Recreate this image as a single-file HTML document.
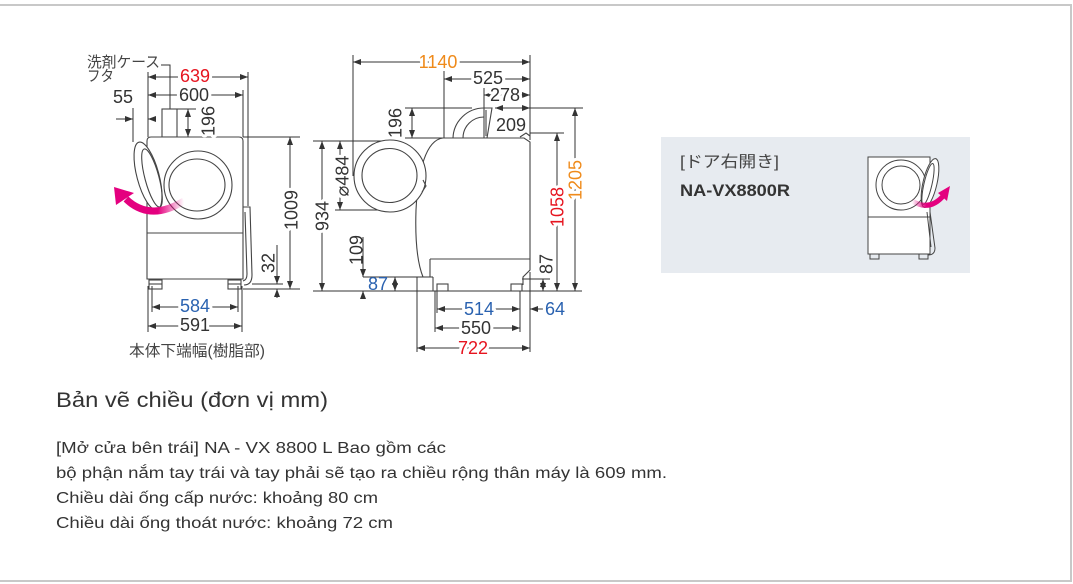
<!DOCTYPE html>
<html><head><meta charset="utf-8">
<style>
html,body{margin:0;padding:0;background:#fff;width:1073px;height:584px;overflow:hidden}
svg{display:block}
.n{font-family:"Liberation Sans",sans-serif;font-size:18px;text-anchor:middle;fill:#333;stroke:#fff;stroke-width:6px;paint-order:stroke;stroke-linejoin:round}
.r{fill:#e6141f}.o{fill:#ef8a1a}.b{fill:#2a62b0}
.jp{font-family:"Liberation Sans","Noto Sans CJK JP",sans-serif;fill:#444}
.vi{font-family:"Liberation Sans",sans-serif;fill:#333}
</style></head>
<body>
<svg width="1073" height="584" viewBox="0 0 1073 584" xmlns="http://www.w3.org/2000/svg">
<defs>
<marker id="a" viewBox="0 0 8 6" refX="8" refY="3" markerWidth="8" markerHeight="6" markerUnits="userSpaceOnUse" orient="auto-start-reverse"><path d="M0,0 L8,3 L0,6 z" fill="#333"/></marker>
<linearGradient id="pg" x1="0" x2="1" y1="0" y2="0"><stop offset="0" stop-color="#e4007f"/><stop offset="0.55" stop-color="#e4007f"/><stop offset="1" stop-color="#e4007f" stop-opacity="0"/></linearGradient>
<linearGradient id="pg2" x1="0" x2="1" y1="0" y2="0"><stop offset="0" stop-color="#e4007f" stop-opacity="0"/><stop offset="0.45" stop-color="#e4007f"/><stop offset="1" stop-color="#e4007f"/></linearGradient>
</defs>

<!-- frame -->
<rect x="-5" y="5" width="1076" height="576" fill="none" stroke="#c8c8c8" stroke-width="2"/>

<!-- ============ LEFT DRAWING ============ -->
<g stroke="#333" stroke-width="1" fill="none">
  <line x1="148" y1="72" x2="148" y2="137"/>
  <line x1="243" y1="90" x2="243" y2="137"/>
  <line x1="248" y1="72" x2="248" y2="206"/>
  <line x1="133" y1="108" x2="133" y2="142"/>
  <polyline points="161,65 170,65 170,109"/>
  <line x1="177" y1="109" x2="196" y2="109"/>
  <line x1="243" y1="137" x2="300" y2="137"/>
  <line x1="252" y1="284" x2="283" y2="284"/>
  <line x1="243" y1="289" x2="300" y2="289"/>
  <line x1="148" y1="286" x2="148" y2="332"/>
  <line x1="152" y1="286" x2="152" y2="312"/>
  <line x1="238" y1="286" x2="238" y2="312"/>
  <line x1="242" y1="286" x2="242" y2="332"/>
  <line x1="148" y1="77" x2="248" y2="77" marker-start="url(#a)" marker-end="url(#a)"/>
  <line x1="148" y1="95" x2="243" y2="95" marker-start="url(#a)" marker-end="url(#a)"/>
  <line x1="116" y1="119" x2="133" y2="119" marker-end="url(#a)"/>
  <line x1="156" y1="119" x2="148" y2="119" marker-end="url(#a)"/>
  <line x1="188" y1="109" x2="188" y2="137" marker-start="url(#a)" marker-end="url(#a)"/>
  <line x1="290" y1="137" x2="290" y2="289" marker-start="url(#a)" marker-end="url(#a)"/>
  <line x1="277" y1="245" x2="277" y2="284" marker-end="url(#a)"/>
  <line x1="277" y1="298" x2="277" y2="289" marker-end="url(#a)"/>
  <line x1="152" y1="307" x2="238" y2="307" marker-start="url(#a)" marker-end="url(#a)"/>
  <line x1="148" y1="326" x2="242" y2="326" marker-start="url(#a)" marker-end="url(#a)"/>
</g>
<g stroke="#444" stroke-width="1.1" fill="none">
  <rect x="162" y="109" width="15" height="28" fill="#fff"/>
  <path d="M147 141 Q147 137 151 137 L239 137 Q243 137 243 141 L243 279 L147 279 Z" fill="#fff"/>
  <line x1="147" y1="233" x2="243" y2="233"/>
  <rect x="149" y="280" width="13" height="9"/>
  <line x1="149" y1="284" x2="162" y2="284"/>
  <rect x="228" y="280" width="13" height="9"/>
  <line x1="228" y1="284" x2="241" y2="284"/>
  <circle cx="198" cy="185" r="34"/>
  <ellipse cx="197" cy="185" rx="28" ry="26"/>
  <path d="M243 207 L250 207 L252 275 Q252 285 244 285" />
  <path d="M245 212 L247 274 Q247 280 243 281" />
  <ellipse cx="148" cy="176" rx="11" ry="35" transform="rotate(-15 148 176)" fill="#fff"/>
  <ellipse cx="152" cy="178" rx="7" ry="30" transform="rotate(-15 152 178)"/>
</g>
<path d="M126 199 Q150 222 184 201" stroke="url(#pg)" stroke-width="7" fill="none"/>
<polygon points="114,187 116,205 134,193" fill="#e4007f"/>

<text class="jp" x="87" y="67" font-size="15" textLength="73" lengthAdjust="spacingAndGlyphs">洗剤ケース</text>
<text class="jp" x="87" y="81" font-size="15" textLength="27" lengthAdjust="spacingAndGlyphs">フタ</text>
<text class="n r" x="195" y="82">639</text>
<text class="n" x="194" y="101">600</text>
<text class="n" x="123" y="103">55</text>
<text class="n" transform="translate(208,121) rotate(-90)" y="6.5">196</text>
<text class="n" transform="translate(291,210) rotate(-90)" y="6.5">1009</text>
<text class="n" transform="translate(268,263) rotate(-90)" y="6.5" style="stroke-width:0">32</text>
<text class="n b" x="195" y="312">584</text>
<text class="n" x="195" y="331">591</text>
<text class="jp" x="197" y="356" font-size="15.5" text-anchor="middle" textLength="136" lengthAdjust="spacingAndGlyphs">本体下端幅(樹脂部)</text>

<!-- ============ MIDDLE DRAWING ============ -->
<g stroke="#333" stroke-width="1" fill="none">
  <line x1="353" y1="55" x2="353" y2="176"/>
  <line x1="444" y1="71" x2="444" y2="138"/>
  <line x1="484" y1="88" x2="484" y2="112"/>
  <line x1="530" y1="55" x2="530" y2="140"/>
  <line x1="405" y1="108" x2="472" y2="108"/>
  <line x1="530" y1="108" x2="583" y2="108"/>
  <line x1="530" y1="133" x2="564" y2="133"/>
  <line x1="405" y1="138" x2="445" y2="138"/>
  <line x1="313" y1="141" x2="390" y2="141"/>
  <line x1="335" y1="210" x2="390" y2="210"/>
  <line x1="313" y1="291" x2="582" y2="291"/>
  <line x1="363" y1="277" x2="433" y2="277"/>
  <line x1="522" y1="279" x2="550" y2="279"/>
  <line x1="417" y1="277" x2="417" y2="352"/>
  <line x1="435" y1="291" x2="435" y2="332"/>
  <line x1="437" y1="291" x2="437" y2="313"/>
  <line x1="520" y1="291" x2="520" y2="332"/>
  <line x1="530" y1="272" x2="530" y2="352"/>
  <line x1="353" y1="62" x2="530" y2="62" marker-start="url(#a)" marker-end="url(#a)"/>
  <line x1="444" y1="79" x2="530" y2="79" marker-start="url(#a)" marker-end="url(#a)"/>
  <line x1="484" y1="95" x2="530" y2="95" marker-start="url(#a)" marker-end="url(#a)"/>
  <line x1="495" y1="108" x2="530" y2="108" marker-start="url(#a)" marker-end="url(#a)"/>
  <line x1="412" y1="108" x2="412" y2="138" marker-start="url(#a)" marker-end="url(#a)"/>
  <line x1="575" y1="108" x2="575" y2="291" marker-start="url(#a)" marker-end="url(#a)"/>
  <line x1="557" y1="133" x2="557" y2="291" marker-start="url(#a)" marker-end="url(#a)"/>
  <line x1="543" y1="279" x2="543" y2="291" marker-start="url(#a)" marker-end="url(#a)"/>
  <line x1="395" y1="277" x2="395" y2="291" marker-start="url(#a)" marker-end="url(#a)"/>
  <line x1="363" y1="237" x2="363" y2="277" marker-end="url(#a)"/>
  <line x1="363" y1="298" x2="363" y2="291" marker-end="url(#a)"/>
  <line x1="322" y1="141" x2="322" y2="291" marker-start="url(#a)" marker-end="url(#a)"/>
  <line x1="340" y1="141" x2="340" y2="210" marker-start="url(#a)" marker-end="url(#a)"/>
  <line x1="437" y1="309" x2="520" y2="309" marker-start="url(#a)" marker-end="url(#a)"/>
  <line x1="545" y1="309" x2="530" y2="309" marker-end="url(#a)"/>
  <line x1="435" y1="328" x2="520" y2="328" marker-start="url(#a)" marker-end="url(#a)"/>
  <line x1="417" y1="348" x2="530" y2="348" marker-start="url(#a)" marker-end="url(#a)"/>
</g>
<g stroke="#444" stroke-width="1.1" fill="none">
  <path d="M443 138 L524 138 L530 142 L530 270 L523 277 L523 285" />
  <path d="M443 138 C426 140 418 170 416 210 C415 240 417 262 423 277" />
  <line x1="430" y1="259" x2="530" y2="259"/>
  <line x1="430" y1="259" x2="430" y2="277"/>
  <line x1="433" y1="277" x2="433" y2="291"/>
  <rect x="437" y="284" width="11" height="7"/>
  <rect x="511" y="284" width="11" height="7"/>
  <path d="M520 137 L526 133 L530 136"/>
  <path d="M453 138 A31 31 0 0 1 484 108"/>
  <path d="M463 138 A21 21 0 0 1 484 117"/>
  <polygon points="484,108 492,108 487,138 484,138" fill="#fff"/>
  <line x1="486" y1="110" x2="486" y2="136"/>
  <circle cx="390" cy="176" r="36" fill="#fff"/>
  <ellipse cx="389.5" cy="175.5" rx="27.5" ry="27"/>
  <path d="M423 180 L426 186 L422 192"/>
</g>
<text class="n o" x="438" y="68">1140</text>
<text class="n" x="488" y="84">525</text>
<text class="n" x="505" y="101">278</text>
<text class="n" x="511" y="131" style="stroke-width:0">209</text>
<text class="n" transform="translate(395,123) rotate(-90)" y="6.5" style="stroke-width:0">196</text>
<text class="n" transform="translate(342,176) rotate(-90)" y="6.5">⌀484</text>
<text class="n" transform="translate(322,216) rotate(-90)" y="6.5">934</text>
<text class="n" transform="translate(356,250) rotate(-90)" y="6.5" style="stroke-width:0">109</text>
<text class="n b" x="378" y="290" style="stroke-width:0">87</text>
<text class="n" transform="translate(546,264) rotate(-90)" y="6.5" style="stroke-width:0">87</text>
<text class="n r" transform="translate(557,207) rotate(-90)" y="6.5">1058</text>
<text class="n o" transform="translate(575,180) rotate(-90)" y="6.5">1205</text>
<text class="n b" x="479" y="315">514</text>
<text class="n b" x="555" y="315">64</text>
<text class="n" x="476" y="334">550</text>
<text class="n r" x="473" y="354">722</text>

<!-- ============ RIGHT BOX ============ -->
<rect x="661" y="137" width="309" height="136" fill="#e7ebf0"/>
<text class="jp" x="680" y="167" font-size="16" fill="#333" textLength="99" lengthAdjust="spacingAndGlyphs">[ドア右開き]</text>
<text x="680" y="196" font-family="Liberation Sans, sans-serif" font-size="17" font-weight="bold" fill="#333" textLength="110" lengthAdjust="spacingAndGlyphs">NA-VX8800R</text>
<g stroke="#444" stroke-width="1" fill="none">
  <rect x="868" y="157" width="62" height="97" fill="#fff"/>
  <line x1="868" y1="217" x2="930" y2="217"/>
  <circle cx="901" cy="185" r="25"/>
  <circle cx="901" cy="185" r="19"/>
  <rect x="870" y="254" width="9" height="5"/>
  <rect x="919" y="254" width="9" height="5"/>
  <path d="M930 212 L935 248 Q935 255 928 255"/>
  <path d="M927 212 L931 247"/>
  <ellipse cx="930" cy="183" rx="7" ry="25" transform="rotate(13 930 183)" fill="#fff"/>
  <ellipse cx="928" cy="184" rx="4" ry="21" transform="rotate(13 928 184)"/>
</g>
<path d="M912 201 Q930 212 944 195" stroke="url(#pg2)" stroke-width="5" fill="none"/>
<polygon points="950,186 938,193 947,201" fill="#e4007f"/>

<!-- ============ TEXT ============ -->
<text class="vi" x="56" y="407" font-size="21" textLength="272" lengthAdjust="spacingAndGlyphs">Bản vẽ chiều (đơn vị mm)</text>
<text class="vi" x="56" y="453" font-size="15.5" textLength="390" lengthAdjust="spacingAndGlyphs">[Mở cửa bên trái] NA - VX 8800 L Bao gồm các</text>
<text class="vi" x="56" y="478" font-size="15.5" textLength="611" lengthAdjust="spacingAndGlyphs">bộ phận nắm tay trái và tay phải sẽ tạo ra chiều rộng thân máy là 609 mm.</text>
<text class="vi" x="56" y="503" font-size="15.5" textLength="322" lengthAdjust="spacingAndGlyphs">Chiều dài ống cấp nước: khoảng 80 cm</text>
<text class="vi" x="56" y="528" font-size="15.5" textLength="337" lengthAdjust="spacingAndGlyphs">Chiều dài ống thoát nước: khoảng 72 cm</text>
</svg>
</body></html>
